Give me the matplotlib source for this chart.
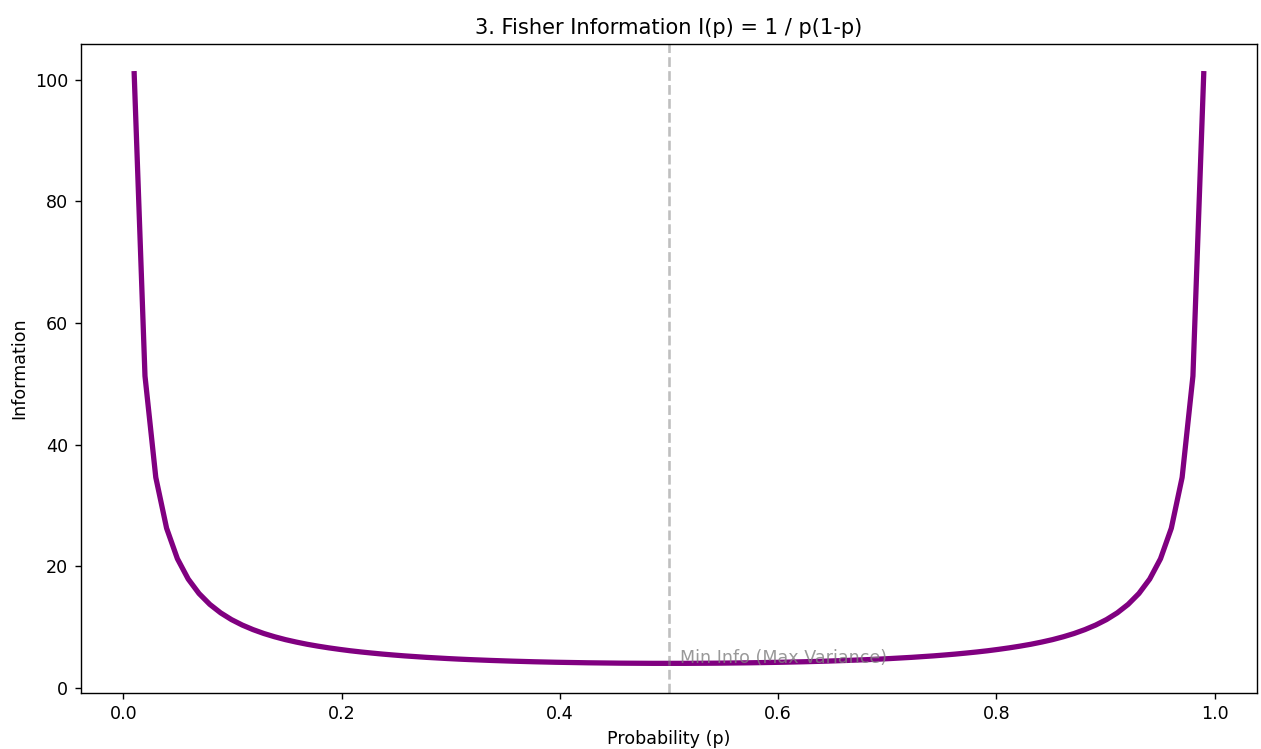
import matplotlib
matplotlib.use("Agg")
import matplotlib.pyplot as plt

# probability grid (100 points from 0.01 to 0.99)
p_vals = [
    0.0100, 0.0199, 0.0298, 0.0397, 0.0496, 0.0595, 0.0694, 0.0793, 0.0892, 0.0991,
    0.1090, 0.1189, 0.1288, 0.1387, 0.1486, 0.1585, 0.1684, 0.1783, 0.1882, 0.1981,
    0.2080, 0.2179, 0.2278, 0.2377, 0.2476, 0.2575, 0.2674, 0.2773, 0.2872, 0.2971,
    0.3070, 0.3169, 0.3268, 0.3367, 0.3466, 0.3565, 0.3664, 0.3763, 0.3862, 0.3961,
    0.4060, 0.4159, 0.4258, 0.4357, 0.4456, 0.4555, 0.4654, 0.4753, 0.4852, 0.4951,
    0.5049, 0.5148, 0.5247, 0.5346, 0.5445, 0.5544, 0.5643, 0.5742, 0.5841, 0.5940,
    0.6039, 0.6138, 0.6237, 0.6336, 0.6435, 0.6534, 0.6633, 0.6732, 0.6831, 0.6930,
    0.7029, 0.7128, 0.7227, 0.7326, 0.7425, 0.7524, 0.7623, 0.7722, 0.7821, 0.7920,
    0.8019, 0.8118, 0.8217, 0.8316, 0.8415, 0.8514, 0.8613, 0.8712, 0.8811, 0.8910,
    0.9009, 0.9108, 0.9207, 0.9306, 0.9405, 0.9504, 0.9603, 0.9702, 0.9801, 0.9900,
]
info_vals = [
    101.01, 51.27, 34.59, 26.23, 21.21, 17.87, 15.49, 13.70, 12.31, 11.20,
    10.30, 9.55, 8.91, 8.37, 7.90, 7.50, 7.14, 6.83, 6.55, 6.30,
    6.07, 5.87, 5.69, 5.52, 5.37, 5.23, 5.11, 4.99, 4.89, 4.79,
    4.70, 4.62, 4.55, 4.48, 4.42, 4.36, 4.31, 4.26, 4.22, 4.18,
    4.15, 4.12, 4.09, 4.07, 4.05, 4.03, 4.02, 4.01, 4.00, 4.00,
    4.00, 4.00, 4.01, 4.02, 4.03, 4.05, 4.07, 4.09, 4.12, 4.15,
    4.18, 4.22, 4.26, 4.31, 4.36, 4.42, 4.48, 4.55, 4.62, 4.70,
    4.79, 4.89, 4.99, 5.11, 5.23, 5.37, 5.52, 5.69, 5.87, 6.07,
    6.30, 6.55, 6.83, 7.14, 7.50, 7.90, 8.37, 8.91, 9.55, 10.30,
    11.20, 12.31, 13.70, 15.49, 17.87, 21.21, 26.23, 34.59, 51.27, 101.01,
]

DPI = 126.1
fig, ax = plt.subplots(figsize=(1261 / DPI, 749 / DPI), dpi=DPI)
fig.subplots_adjust(left=0.064, right=0.997, top=0.941, bottom=0.075)

ax.plot(p_vals, info_vals, color="purple", linewidth=3)
ax.axvline(0.5, color="gray", linestyle="--", alpha=0.5)
ax.text(0.51, 4, "Min Info (Max Variance)", color="gray", alpha=0.8)

ax.set_title("3. Fisher Information I(p) = 1 / p(1-p)")
ax.set_xlabel("Probability (p)")
ax.set_ylabel("Information")

fig.savefig("out.png", dpi=DPI)
